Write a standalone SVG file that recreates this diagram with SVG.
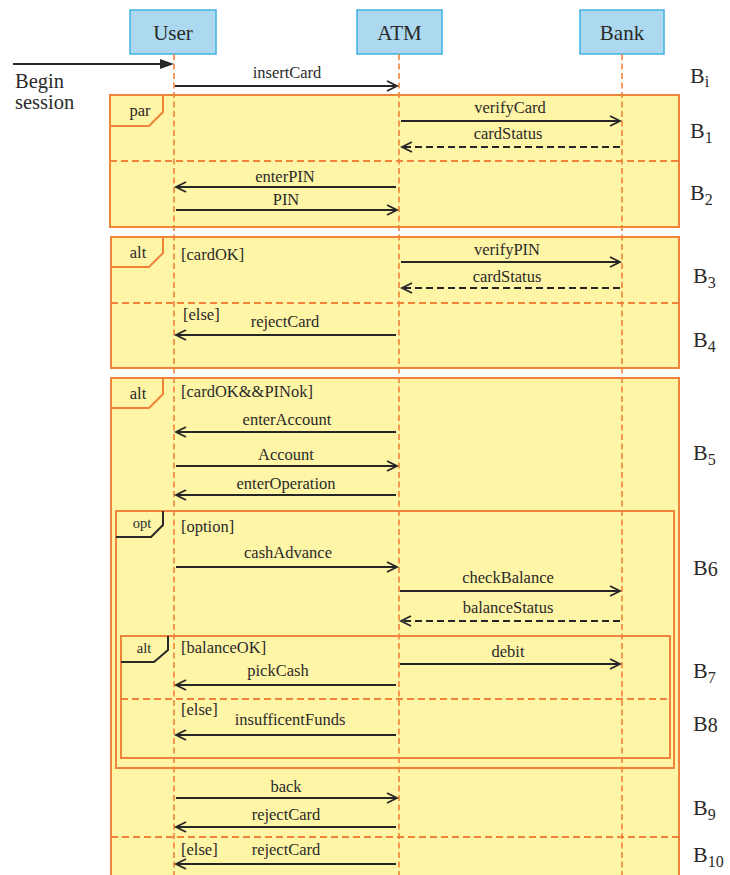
<svg xmlns="http://www.w3.org/2000/svg" width="730" height="875" viewBox="0 0 730 875" font-family="'Liberation Serif', 'Times New Roman', 'DejaVu Serif', serif">
  <style>
    text { font-family: 'Liberation Serif', 'Times New Roman', 'DejaVu Serif', serif; fill: #2a2a2a; }
    .head rect { fill: #acd9ef; stroke: #3fb3e3; stroke-width: 1.5; }
    .head text { font-size: 21px; text-anchor: middle; }
    .frame { fill: #fff5a6; stroke: #f0843a; stroke-width: 2; }
    .divider { fill: none; stroke: #f0843a; stroke-width: 1.8; stroke-dasharray: 7 4; }
    .tab { fill: none; stroke: #f0843a; stroke-width: 2; }
    .tab-dark { fill: none; stroke: #2a2a2a; stroke-width: 2; }
    .tab-label { font-size: 16.5px; text-anchor: middle; }
    .tab-label-sm { font-size: 14.5px; text-anchor: middle; }
    .guard { font-size: 16.5px; }
    .lifeline { stroke: #f0843a; stroke-width: 1.6; stroke-dasharray: 6 3.5; }
    .msg { fill: none; stroke: #262626; stroke-width: 1.8; marker-end: url(#open); }
    .ret { fill: none; stroke: #262626; stroke-width: 1.8; stroke-dasharray: 7 4; marker-end: url(#open); }
    .label { font-size: 16.5px; text-anchor: middle; }
    .blk { font-size: 22px; }
  </style>
  <defs>
    <marker id="open" markerUnits="userSpaceOnUse" markerWidth="12" markerHeight="12" refX="10" refY="5" orient="auto" overflow="visible">
      <path d="M0,0 L10,5 L0,10" fill="none" stroke="#262626" stroke-width="1.8" stroke-dasharray="none"/>
    </marker>
  </defs>

  <!-- combined fragments -->
  <g id="frame-par">
    <rect class="frame" x="110" y="95" width="569" height="132"/>
    <line class="divider" x1="110" y1="161" x2="679" y2="161"/>
    <path class="tab" d="M110,126 H149 L163,112 V95"/>
    <text class="tab-label" x="140" y="116">par</text>
  </g>
  <g id="frame-alt-card">
    <rect class="frame" x="111" y="237" width="568" height="131"/>
    <line class="divider" x1="111" y1="303" x2="679" y2="303"/>
    <path class="tab" d="M111,267 H149 L163,253 V237"/>
    <text class="tab-label" x="138" y="258">alt</text>
    <text class="guard" x="181" y="260">[cardOK]</text>
    <text class="guard" x="183" y="320">[else]</text>
  </g>
  <g id="frame-alt-session">
    <rect class="frame" x="111" y="378" width="568" height="510"/>
    <line class="divider" x1="111" y1="837" x2="679" y2="837"/>
    <path class="tab" d="M111,408 H149 L163,394 V378"/>
    <text class="tab-label" x="138" y="399">alt</text>
    <text class="guard" x="181" y="397">[cardOK&amp;&amp;PINok]</text>
    <text class="guard" x="181" y="855">[else]</text>
  </g>
  <g id="frame-opt">
    <rect class="frame" x="116" y="511" width="558" height="257"/>
    <path class="tab-dark" d="M116,537 H151 L163,525 V511"/>
    <text class="tab-label-sm" x="142" y="528">opt</text>
    <text class="guard" x="181" y="532">[option]</text>
  </g>
  <g id="frame-alt-balance">
    <rect class="frame" x="121" y="636" width="549" height="122"/>
    <line class="divider" x1="121" y1="699" x2="670" y2="699"/>
    <path class="tab-dark" d="M121,662 H154 L168,650 V636"/>
    <text class="tab-label-sm" x="144" y="653">alt</text>
    <text class="guard" x="181" y="653">[balanceOK]</text>
    <text class="guard" x="181" y="715">[else]</text>
  </g>

  <!-- participants -->
  <g id="user" class="head">
    <rect x="130" y="10" width="86" height="44"/>
    <text x="173" y="40">User</text>
  </g>
  <g id="atm" class="head">
    <rect x="357" y="10" width="85" height="44"/>
    <text x="399.5" y="40">ATM</text>
  </g>
  <g id="bank" class="head">
    <rect x="580" y="10" width="84" height="44"/>
    <text x="622" y="40">Bank</text>
  </g>

  <!-- lifelines -->
  <g id="lifelines">
    <line class="lifeline" x1="174" y1="54" x2="174" y2="875"/>
    <line class="lifeline" x1="399" y1="54" x2="399" y2="875"/>
    <line class="lifeline" x1="622" y1="54" x2="622" y2="875"/>
  </g>

  <!-- start of session -->
  <g id="begin">
    <line x1="13" y1="64" x2="162" y2="64" stroke="#262626" stroke-width="1.8"/>
    <path d="M160,59 L174,64 L160,69 Z" fill="#262626"/>
    <text x="15" y="88" font-size="20.5">Begin</text>
    <text x="15" y="109" font-size="20.5">session</text>
  </g>

  <!-- messages -->
  <g id="connectors">
    <line class="msg" x1="175" y1="86" x2="397" y2="86"/>
    <text class="label" x="287" y="78">insertCard</text>

    <line class="msg" x1="401" y1="121" x2="620" y2="121"/>
    <text class="label" x="510" y="113">verifyCard</text>
    <line class="ret" x1="620" y1="147" x2="402" y2="147"/>
    <text class="label" x="508" y="139">cardStatus</text>

    <line class="msg" x1="396" y1="187" x2="176" y2="187"/>
    <text class="label" x="285" y="182">enterPIN</text>
    <line class="msg" x1="176" y1="210" x2="397" y2="210"/>
    <text class="label" x="286" y="205">PIN</text>

    <line class="msg" x1="401" y1="262" x2="620" y2="262"/>
    <text class="label" x="507" y="255">verifyPIN</text>
    <line class="ret" x1="620" y1="288" x2="402" y2="288"/>
    <text class="label" x="507" y="282">cardStatus</text>

    <line class="msg" x1="396" y1="335" x2="176" y2="335"/>
    <text class="label" x="285" y="327">rejectCard</text>

    <line class="msg" x1="396" y1="432" x2="176" y2="432"/>
    <text class="label" x="287" y="425">enterAccount</text>
    <line class="msg" x1="176" y1="466" x2="397" y2="466"/>
    <text class="label" x="286" y="460">Account</text>
    <line class="msg" x1="396" y1="495" x2="176" y2="495"/>
    <text class="label" x="286" y="489">enterOperation</text>

    <line class="msg" x1="176" y1="567" x2="397" y2="567"/>
    <text class="label" x="288" y="558">cashAdvance</text>
    <line class="msg" x1="400" y1="591" x2="620" y2="591"/>
    <text class="label" x="508" y="583">checkBalance</text>
    <line class="ret" x1="620" y1="621" x2="401" y2="621"/>
    <text class="label" x="508" y="613">balanceStatus</text>

    <line class="msg" x1="400" y1="664" x2="620" y2="664"/>
    <text class="label" x="508" y="657">debit</text>
    <line class="msg" x1="396" y1="685" x2="176" y2="685"/>
    <text class="label" x="278" y="676">pickCash</text>
    <line class="msg" x1="396" y1="735" x2="176" y2="735"/>
    <text class="label" x="290" y="725">insufficentFunds</text>

    <line class="msg" x1="176" y1="798" x2="397" y2="798"/>
    <text class="label" x="286" y="792">back</text>
    <line class="msg" x1="396" y1="827" x2="176" y2="827"/>
    <text class="label" x="286" y="820">rejectCard</text>
    <line class="msg" x1="396" y1="864" x2="176" y2="864"/>
    <text class="label" x="286" y="855">rejectCard</text>
  </g>

  <!-- block markers -->
  <g id="blocks" class="blk">
    <text x="690" y="83">B<tspan font-size="16" dy="4">i</tspan></text>
    <text x="690" y="138">B<tspan font-size="16" dy="5">1</tspan></text>
    <text x="690" y="200">B<tspan font-size="16" dy="5">2</tspan></text>
    <text x="693" y="283">B<tspan font-size="16" dy="5">3</tspan></text>
    <text x="693" y="347">B<tspan font-size="16" dy="5">4</tspan></text>
    <text x="693" y="460">B<tspan font-size="16" dy="5">5</tspan></text>
    <text x="693" y="575">B<tspan font-size="20" dy="1">6</tspan></text>
    <text x="693" y="678">B<tspan font-size="16" dy="5">7</tspan></text>
    <text x="693" y="731">B<tspan font-size="20" dy="1">8</tspan></text>
    <text x="693" y="815">B<tspan font-size="16" dy="5">9</tspan></text>
    <text x="693" y="862">B<tspan font-size="16" dy="5">10</tspan></text>
  </g>
</svg>
